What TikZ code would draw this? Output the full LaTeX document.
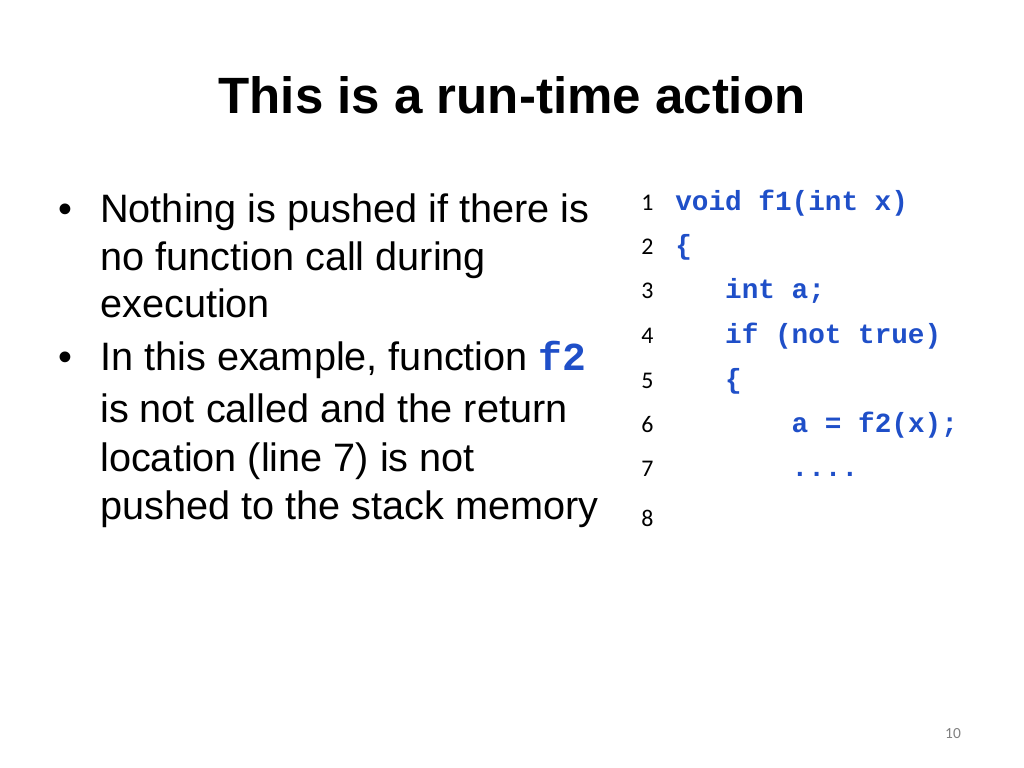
\documentclass[tikz,border=0pt]{standalone}
\usepackage{fontspec}
\setmainfont{Liberation Sans}
\newfontfamily\codefont{Liberation Mono}
\newfontfamily\numfont{Carlito}
\usetikzlibrary{positioning}
\definecolor{codeblue}{HTML}{1F4FC8}
\begin{document}
\begin{tikzpicture}[x=0.025cm,y=-0.025cm,
  title/.style={font=\fontsize{36.3}{40}\selectfont\bfseries, anchor=base},
  txt/.style={font=\fontsize{28.2}{32}\selectfont, anchor=base west, inner sep=0pt},
  lnum/.style={font=\numfont\fontsize{17}{20}\selectfont, anchor=base west, inner sep=0pt},
  code/.style={font=\codefont\bfseries\fontsize{19.7}{22}\selectfont, text=codeblue, anchor=base west, inner sep=0pt},
]
  \useasboundingbox (0,0) rectangle (1024,768);
  \node[title] (ttl) at (512,114) {This is a run-time action};
  % bullets
  \node[txt] (b1) at (58,222) {\textbullet};
  \node[txt] (t1) at (100,222) {Nothing is pushed if there is};
  \node[txt] (t2) at (100,270) {no function call during};
  \node[txt] (t3) at (100,317) {execution};
  \node[txt] (b2) at (58,370) {\textbullet};
  \node[txt] (t4) at (100,370) {In this example, function {\codefont\bfseries\color{codeblue}f2}};
  \node[txt] (t5) at (100,422) {is not called and the return};
  \node[txt] (t6) at (100,471) {location (line 7) is not};
  \node[txt] (t7) at (100,519) {pushed to the stack memory};
  % code listing
  \foreach \n/\y in {1/210,2/254,3/298,4/343,5/388,6/432,7/476,8/526}
    \node[lnum] (n\n) at (641,\y) {\n};
  \node[code] (c1) at (675,210) {void f1(int x)};
  \node[code] (c2) at (675,254) {\{};
  \node[code] (c3) at (675,298) {\ \ \ int a;};
  \node[code] (c4) at (675,343) {\ \ \ if (not true)};
  \node[code] (c5) at (675,388) {\ \ \ \{};
  \node[code] (c6) at (675,432) {\ \ \ \ \ \ \ a = f2(x);};
  \node[code] (c7) at (675,476) {\ \ \ \ \ \ \ ....};
  \node[font=\numfont\fontsize{11}{13}\selectfont, text=gray, anchor=base] (pg) at (953,738) {10};
\end{tikzpicture}
\end{document}
